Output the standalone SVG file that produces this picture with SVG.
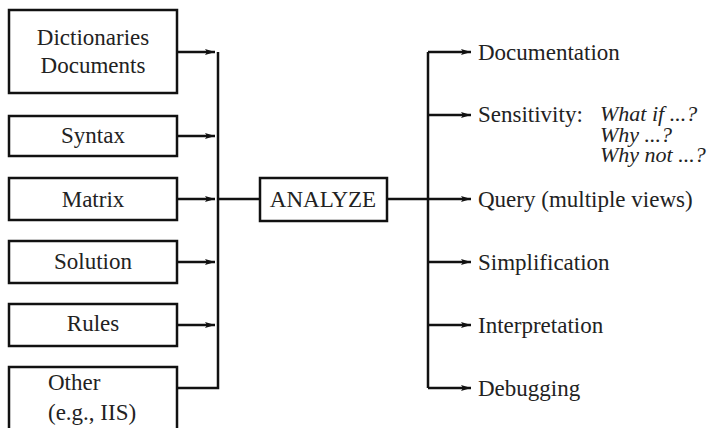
<svg xmlns="http://www.w3.org/2000/svg" width="715" height="428" viewBox="0 0 715 428">
<defs>
<marker id="ah" viewBox="0 0 10 6" refX="10" refY="3" markerWidth="10" markerHeight="6" markerUnits="userSpaceOnUse" orient="auto">
<path d="M0,0 L10,3 L0,6 L2,3 Z" fill="#111"/>
</marker>
</defs>
<style>
.box{fill:#fff;stroke:#111;stroke-width:2.5}
.ln{fill:none;stroke:#111;stroke-width:2.5}
.t{font-family:'Liberation Serif','Times New Roman',serif;font-size:23px;fill:#222}
.c{text-anchor:middle}
.i{font-style:italic}
</style>
<rect width="715" height="428" fill="#fff"/>
<g id="connectors">
<path class="ln" d="M218,52 V388 H178"/>
<path class="ln" d="M178,52 H215" marker-end="url(#ah)"/>
<path class="ln" d="M178,136 H215" marker-end="url(#ah)"/>
<path class="ln" d="M178,199 H215" marker-end="url(#ah)"/>
<path class="ln" d="M178,262 H215" marker-end="url(#ah)"/>
<path class="ln" d="M178,325 H215" marker-end="url(#ah)"/>
<path class="ln" d="M218,199 H260"/>
<path class="ln" d="M387,199 H428"/>
<path class="ln" d="M428,52 V388"/>
<path class="ln" d="M428,52 H471" marker-end="url(#ah)"/>
<path class="ln" d="M428,115 H471" marker-end="url(#ah)"/>
<path class="ln" d="M428,199 H471" marker-end="url(#ah)"/>
<path class="ln" d="M428,262 H471" marker-end="url(#ah)"/>
<path class="ln" d="M428,325 H471" marker-end="url(#ah)"/>
<path class="ln" d="M428,388 H471" marker-end="url(#ah)"/>
</g>
<g class="t" font-family="Liberation Serif, Times New Roman, serif" font-size="23">
<g id="dictionaries">
<rect class="box" x="9" y="10" width="168" height="83"/>
<text class="c" x="93" y="45">Dictionaries</text>
<text class="c" x="93" y="73">Documents</text>
</g>
<g id="syntax">
<rect class="box" x="9" y="116" width="168" height="40"/>
<text class="c" x="93" y="143">Syntax</text>
</g>
<g id="matrix">
<rect class="box" x="9" y="178" width="168" height="42"/>
<text class="c" x="93" y="207">Matrix</text>
</g>
<g id="solution">
<rect class="box" x="9" y="241" width="168" height="42"/>
<text class="c" x="93" y="269">Solution</text>
</g>
<g id="rules">
<rect class="box" x="9" y="304" width="168" height="42"/>
<text class="c" x="93" y="331">Rules</text>
</g>
<g id="other">
<rect class="box" x="9" y="367" width="168" height="70"/>
<text x="48" y="390">Other</text>
<text x="48" y="420">(e.g., IIS)</text>
</g>
<g id="analyze">
<rect class="box" x="260" y="178" width="127" height="43"/>
<text class="c" x="323" y="207">ANALYZE</text>
</g>
<g id="documentation"><text x="478" y="60">Documentation</text></g>
<g id="sensitivity">
<text x="478" y="122">Sensitivity:</text>
<text class="i" x="600" y="121" font-size="22">What if ...?</text>
<text class="i" x="600" y="142" font-size="22">Why ...?</text>
<text class="i" x="600" y="162" font-size="22">Why not ...?</text>
</g>
<g id="query"><text x="478" y="207">Query (multiple views)</text></g>
<g id="simplification"><text x="478" y="270">Simplification</text></g>
<g id="interpretation"><text x="478" y="333">Interpretation</text></g>
<g id="debugging"><text x="478" y="396">Debugging</text></g>
</g>
</svg>
